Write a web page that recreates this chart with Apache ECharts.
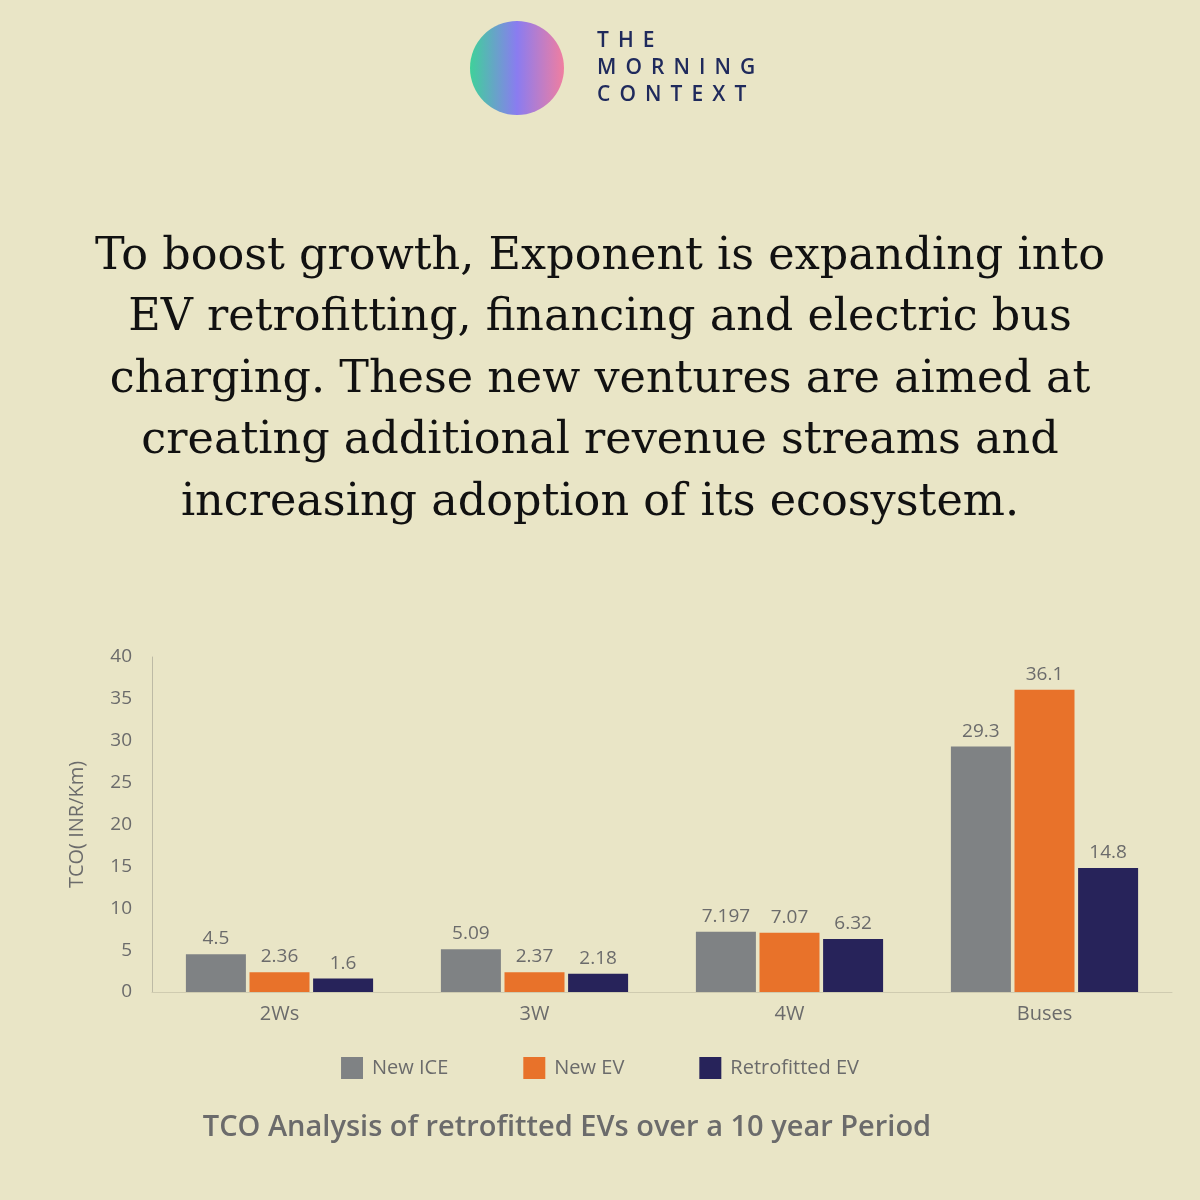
<!DOCTYPE html><html><head><meta charset="utf-8"><script src="https://cdn.jsdelivr.net/npm/echarts@6/dist/echarts.min.js"></script>
<style>html,body{margin:0;background:#e9e5c6}#c{width:1200px;height:1200px}</style></head><body><div id="c"></div><script>
const categories=['2Ws','3W','4W','Buses'];
const newICE=[4.5,5.09,7.197,29.3];
const newEV=[2.36,2.37,7.07,36.1];
const retroEV=[1.6,2.18,6.32,14.8];
const headline=['To boost growth, Exponent is expanding into','EV retrofitting, financing and electric bus','charging. These new ventures are aimed at','creating additional revenue streams and','increasing adoption of its ecosystem.'];
const c=echarts.init(document.getElementById('c'));
const lab={show:true,position:'top',color:'#6b6b6b',fontSize:19,fontFamily:'Open Sans',distance:6};
const g=[{type:'circle',shape:{cx:517,cy:68,r:47},style:{fill:new echarts.graphic.LinearGradient(0,0,1,0,[{offset:0,color:'#3fd19a'},{offset:0.5,color:'#8a7cf0'},{offset:1,color:'#f07ea0'}])}}];
['THE','MORNING','CONTEXT'].forEach((t,i)=>g.push({type:'text',style:{text:t.split('').join('\u2009\u2009\u200a'),x:597,y:41+i*27,textVerticalAlign:'middle',fill:'#1f2a5c',font:'600 21px "Open Sans"'}}));
headline.forEach((t,i)=>g.push({type:'text',style:{text:t,x:600,y:257+i*61.5,textAlign:'center',textVerticalAlign:'middle',fill:'#111',font:'44.5px "DejaVu Serif"'}}));
g.push({type:'text',style:{text:'TCO Analysis of retrofitted EVs over a 10 year Period',x:567,y:1128,textAlign:'center',textVerticalAlign:'middle',fill:'#6b6b6b',font:'600 29px "Open Sans"'}});
c.setOption({backgroundColor:'#e9e5c6',graphic:g,
grid:{left:152,right:28,top:657,bottom:208},
legend:{bottom:116,left:'center',itemWidth:22,itemHeight:22,itemGap:75,icon:'rect',textStyle:{color:'#6b6b6b',fontSize:20,fontFamily:'Open Sans',padding:[0,0,0,4]},data:['New ICE','New EV','Retrofitted EV']},
xAxis:{type:'category',data:categories,axisLine:{lineStyle:{color:'#cfcbb0'}},axisTick:{show:false},axisLabel:{color:'#6b6b6b',fontSize:20,fontFamily:'Open Sans',margin:12}},
yAxis:{type:'value',min:0,max:40,interval:5,name:'TCO( INR/Km)',nameLocation:'middle',nameGap:65,nameTextStyle:{color:'#6b6b6b',fontSize:20,fontFamily:'Open Sans'},axisLine:{show:true,lineStyle:{color:'#bdbaa5'}},splitLine:{show:false},axisLabel:{color:'#6b6b6b',fontSize:19,fontFamily:'Open Sans',margin:20}},
series:[{name:'New ICE',type:'bar',data:newICE,barWidth:60,barGap:'6%',itemStyle:{color:'#7f8284'},label:lab},
{name:'New EV',type:'bar',data:newEV,barWidth:60,barGap:'6%',itemStyle:{color:'#e8722a'},label:lab},
{name:'Retrofitted EV',type:'bar',data:retroEV,barWidth:60,barGap:'6%',itemStyle:{color:'#27235a'},label:lab}]});
</script></body></html>
